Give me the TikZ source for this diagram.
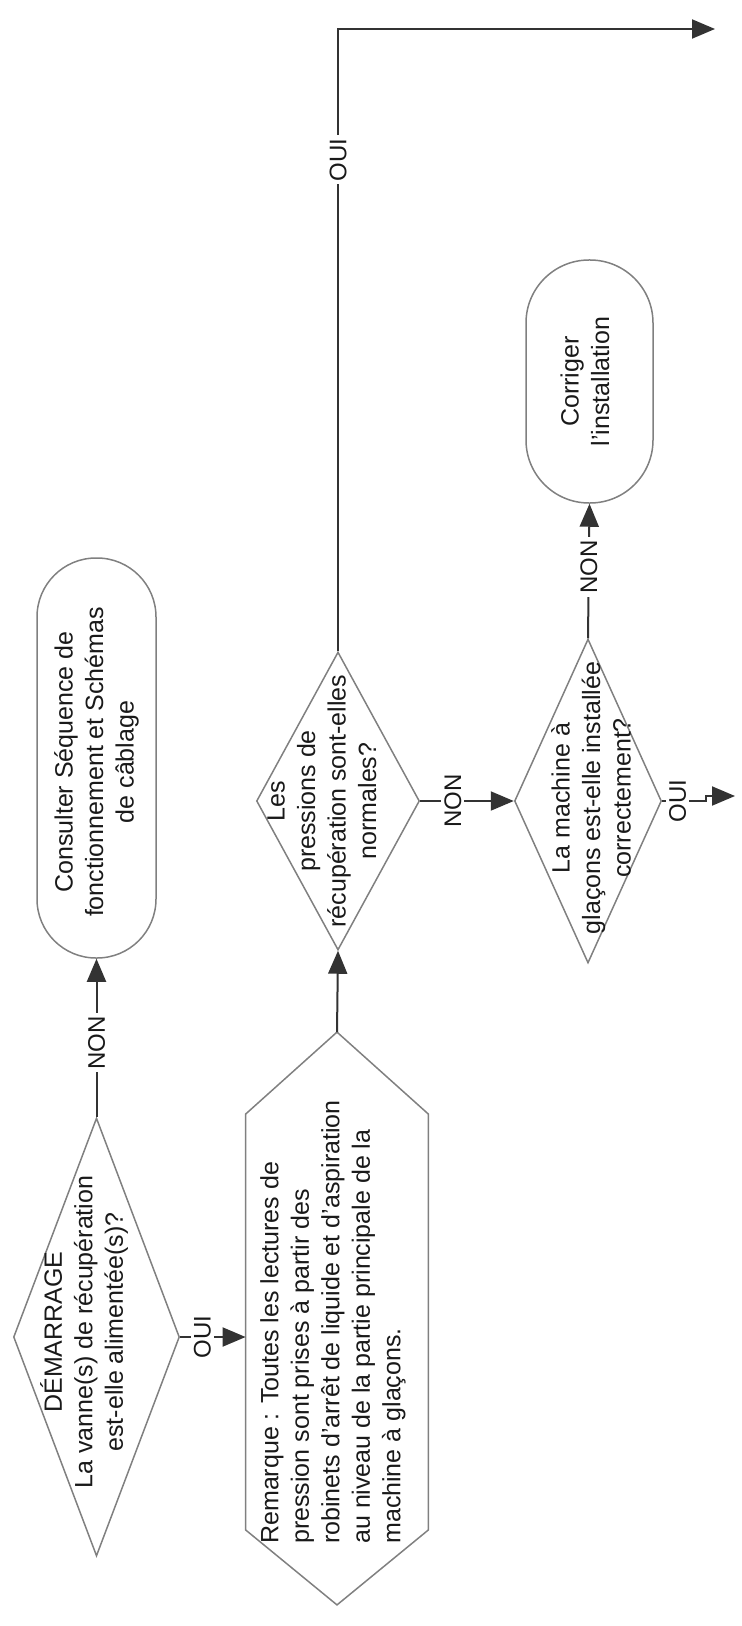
\documentclass[tikz,border=0pt]{standalone}
\usepackage{fontspec}
\setmainfont{Liberation Sans}
\usetikzlibrary{arrows.meta,calc,shapes.geometric}
\begin{document}
\begin{tikzpicture}[x=0.5pt,y=-0.5pt,
  shapeline/.style={draw=black!50, line width=0.75pt},
  conn/.style={draw=black!80, line width=1pt},
  arr/.style={conn, -{Triangle[length=11.5pt,width=9.5pt]}},
  term/.style={shapeline, rectangle, rounded corners=#1, inner sep=0pt},
  dia/.style={shapeline, diamond, inner sep=0pt},
  txt/.style={rotate=90, align=center, inner sep=0pt, font=\fontsize{12.5}{15.25}\selectfont, text=black!90},
  lbl/.style={rotate=90, fill=white, inner sep=1.5pt, font=\fontsize{12}{14}\selectfont, text=black!90}
]
\useasboundingbox (0,0) rectangle (742,1626);

% terminals
\node[term=29.5pt, minimum width=59.5pt, minimum height=200pt] (t1) at (96.5,758) {};
\node[txt] (t1txt) at (96.5,762) {Consulter Séquence de\\fonctionnement et Schémas\\de câblage};

\node[term=31.5pt, minimum width=63.5pt, minimum height=121.5pt] (t2) at (589.5,381.5) {};
\node[txt] (t2txt) at (585,381.5) {Corriger\\l’installation};

% decisions
\node[dia, minimum width=83pt, minimum height=219pt] (d1) at (96.5,1337) {};
\node[txt] (d1txt) at (84,1332) {DÉMARRAGE\\La vanne(s) de récupération\\est-elle alimentée(s)?};

\node[dia, minimum width=81.5pt, minimum height=149pt] (d2) at (338,801) {};
\node[txt] (d2txt) at (322,801) {Les\\pressions de\\récupération sont-elles\\normales?};

\node[dia, minimum width=73.5pt, minimum height=162pt] (d3) at (588,801) {};
\node[txt] (d3txt) at (591,798) {La machine à\\glaçons est-elle installée\\correctement?};

% note hexagon
\node[minimum width=91pt, minimum height=207.5pt, inner sep=0pt] (hx) at (337,1322) {};
\draw[shapeline] (hx.north west) -- ($(hx.north)+(0,-82)$) coordinate (hxtop)
  -- (hx.north east) -- (hx.south east) -- ($(hx.south)+(0,75)$) coordinate (hxbot)
  -- (hx.south west) -- cycle;
\node[txt, align=left] (hxtxt) at (333,1322) {Remarque : Toutes les lectures de\\pression sont prises à partir des\\robinets d’arrêt de liquide et d’aspiration\\au niveau de la partie principale de la\\machine à glaçons.};

% free ends
\coordinate (out1) at (715,29);
\coordinate (jog) at (706,801);
\coordinate (out2) at (735,796);

% connectors
\draw[arr] (d1.north) -- node[lbl,pos=0.47]{NON} (t1.south);
\draw[arr] (d1.east) -- node[lbl,pos=0.34]{OUI} (d1.east -| hx.west);
\draw[arr] (hxtop) -- (d2.south);
\draw[arr] (d2.north) -- node[lbl,pos=0.79]{OUI} (d2.north |- out1) -- (out1);
\draw[arr] (d2.east) -- node[lbl,pos=0.35]{NON} (d3.west);
\draw[arr] (d3.east) -- node[lbl,pos=0.35]{OUI} (jog) -- (jog |- out2) -- (out2);
\draw[arr] (d3.north) -- node[lbl,pos=0.53]{NON} (t2.south);
\end{tikzpicture}
\end{document}
